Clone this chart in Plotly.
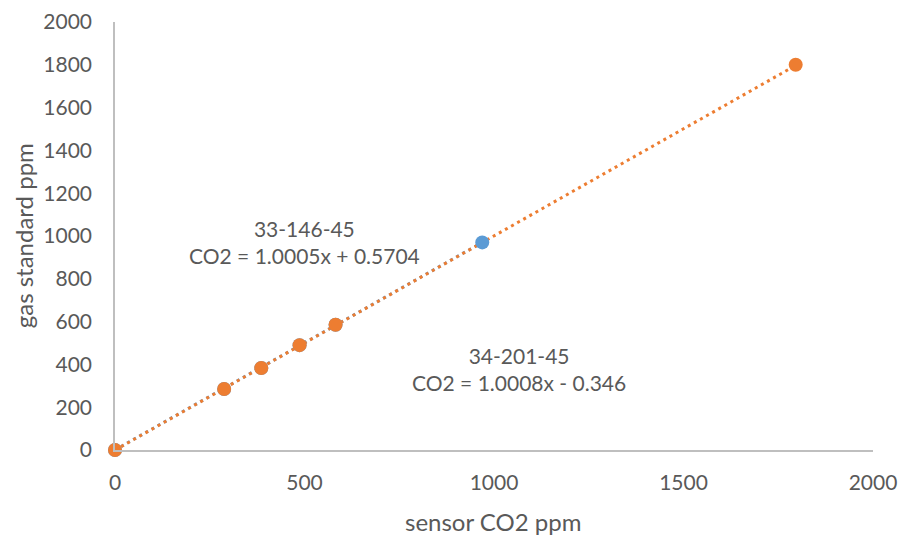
import numpy as np
import plotly.graph_objects as go

# Series 33-146-45 (blue)
blue_x = [0, 288, 386, 487, 582, 969]
blue_y = [0, 285, 383, 490, 585, 970]
blue_slope, blue_intercept = 1.0005, 0.5704
blue_name = "33-146-45"
blue_eq = "CO2 = 1.0005x + 0.5704"

# Series 34-201-45 (orange)
orange_x = [0, 288, 386, 487, 582, 1796]
orange_y = [0, 285, 383, 490, 585, 1800]
orange_slope, orange_intercept = 1.0008, -0.346
orange_name = "34-201-45"
orange_eq = "CO2 = 1.0008x - 0.346"

tick_vals_x = [0, 500, 1000, 1500, 2000]
tick_vals_y = list(range(0, 2001, 200))
x_title = "sensor CO2 ppm"
y_title = "gas standard ppm"

BLUE = "#5B9BD5"
ORANGE = "#ED7D31"
GREY = "#595959"
FONT = "Lato"

fig = go.Figure()

for xs, slope, icpt, col in [(blue_x, blue_slope, blue_intercept, BLUE),
                              (orange_x, orange_slope, orange_intercept, ORANGE)]:
    tx = np.array([min(xs), max(xs)], dtype=float)
    fig.add_trace(go.Scatter(x=tx, y=slope * tx + icpt, mode="lines",
                             line=dict(color=col, width=3, dash="3px,4px"),
                             hoverinfo="skip", showlegend=False, cliponaxis=False))

for xs, ys, col, nm in [(blue_x, blue_y, BLUE, blue_name), (orange_x, orange_y, ORANGE, orange_name)]:
    fig.add_trace(go.Scatter(x=xs, y=ys, mode="markers", name=nm,
                             marker=dict(color=col, size=14, line=dict(width=0)),
                             showlegend=False, cliponaxis=False))

ann_font = dict(family=FONT, size=21, color=GREY)
fig.add_annotation(x=500, y=972, xref="x", yref="y", text=blue_name + "<br>" + blue_eq,
                   showarrow=False, font=ann_font, align="center")
fig.add_annotation(x=1066, y=378, xref="x", yref="y", text=orange_name + "<br>" + orange_eq,
                   showarrow=False, font=ann_font, align="center")

title_font = dict(family=FONT, size=24, color=GREY)
fig.add_annotation(x=0.499, y=-0.166, xref="paper", yref="paper", text=x_title,
                   showarrow=False, font=title_font, xanchor="center", yanchor="middle")
fig.add_annotation(x=-0.121, y=0.50, xref="paper", yref="paper", text=y_title, textangle=-90,
                   showarrow=False, font=title_font, xanchor="center", yanchor="middle")

axis_common = dict(showgrid=False, zeroline=False, showline=True, linecolor="#BFBFBF",
                   linewidth=1.5, ticks="", automargin=False,
                   tickfont=dict(family=FONT, size=21, color=GREY))

fig.update_layout(
    width=901, height=535,
    margin=dict(l=115, r=28, t=22, b=85),
    plot_bgcolor="white", paper_bgcolor="white",
    xaxis=dict(range=[0, 2000], tickvals=tick_vals_x, ticklabelstandoff=13, **axis_common),
    yaxis=dict(range=[0, 2000], tickvals=tick_vals_y, ticklabelstandoff=17, **axis_common),
)

# remove the default 8px page margin so the figure fills the window exactly
fig.write_html("out.html", config={"displayModeBar": False},
               post_script="document.body.style.margin='0';document.body.style.overflow='hidden';")
